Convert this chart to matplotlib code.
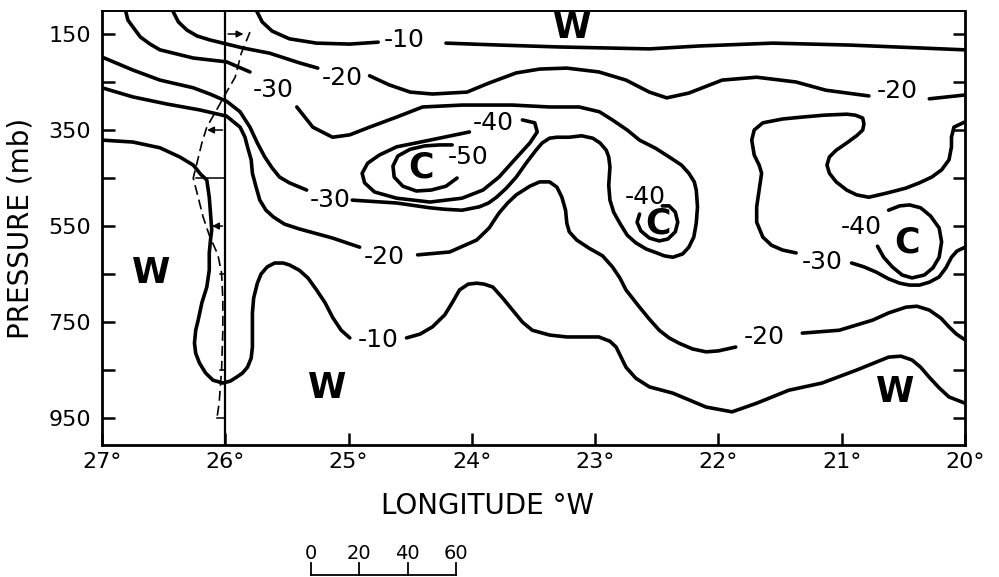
import numpy as np
import matplotlib
matplotlib.use("Agg")
import matplotlib.pyplot as plt

GAP = (np.nan, np.nan)   # break in a line where its label sits

# hand traced isotherms, (longitude deg W, pressure mb)
m10_top = [(25.75, 100), (25.70, 125), (25.62, 144), (25.48, 160), (25.26, 169), (24.99, 171), (24.76, 167), GAP,
           (24.21, 169), (23.78, 173), (23.29, 177), (22.56, 181), (22.16, 175), (21.56, 169), (20.94, 173),
           (20.37, 179), (20.0, 183)]

m20_top = [(26.43, 100), (26.38, 125), (26.31, 142), (26.23, 154), (26.13, 162), (25.86, 179), (25.64, 190),
           (25.40, 210), (25.25, 221), GAP, (24.83, 237), (24.67, 256), (24.50, 271), (24.32, 275), (24.04, 271),
           (23.86, 252), (23.64, 231), (23.45, 223), (23.23, 221), (22.97, 229), (22.75, 246), (22.56, 271),
           (22.42, 283), (22.24, 273), (21.97, 246), (21.69, 240), (21.37, 250), (21.13, 267), (20.78, 279), GAP,
           (20.29, 285), (20.0, 277)]

m30 = [(26.81, 100), (26.79, 121), (26.75, 135), (26.69, 156), (26.61, 171), (26.53, 183), (26.26, 200),
       (25.99, 208), (25.80, 229), GAP,
       (25.42, 302), (25.29, 344), (25.13, 365), (24.99, 360), (24.83, 344), (24.61, 323), (24.40, 302),
       (24.08, 298), (23.67, 298), (23.37, 302), (23.13, 302), (22.965, 312), (22.86, 329), (22.74, 350),
       (22.64, 371), (22.51, 388), (22.40, 406), (22.30, 423), (22.24, 440), (22.196, 458), (22.18, 475),
       (22.17, 510), (22.18, 544), (22.20, 573), (22.24, 594), (22.29, 608), (22.37, 615), (22.44, 612),
       (22.50, 606), (22.585, 598), (22.67, 585), (22.74, 569), (22.80, 544), (22.85, 521), (22.88, 496),
       (22.89, 465), (22.88, 427), (22.89, 406), (22.91, 392), (22.96, 377), (23.02, 367), (23.11, 362),
       (23.21, 365), (23.31, 365), (23.37, 367), (23.43, 377), (23.48, 392), (23.56, 419), (23.64, 448),
       (23.72, 471), (23.80, 490), (23.865, 502), (23.94, 510), (24.08, 517), (24.22, 515), (24.34, 512),
       (24.61, 502), (24.97, 496), GAP,
       (25.34, 475), (25.48, 460), (25.56, 448), (25.62, 429), (25.68, 406), (25.74, 377), (25.80, 344),
       (25.88, 312), (25.99, 290), (26.125, 275), (26.26, 262), (26.53, 246), (26.75, 225), (27.0, 198)]

m30_east = [(20.0, 333), (20.09, 344), (20.11, 365), (20.11, 385), (20.13, 412), (20.19, 433), (20.27, 448),
            (20.37, 460), (20.48, 471), (20.63, 481), (20.78, 490), (20.88, 485), (20.96, 475), (21.045, 458),
            (21.10, 440), (21.12, 423), (21.10, 406), (21.045, 392), (20.96, 377), (20.88, 362), (20.83, 350),
            (20.82, 337), (20.83, 325), (20.89, 319), (20.96, 317), (21.14, 319), (21.32, 323), (21.48, 327),
            (21.64, 335), (21.71, 350), (21.73, 371), (21.71, 402), (21.67, 423), (21.65, 440), (21.67, 475),
            (21.69, 510), (21.69, 542), (21.64, 573), (21.57, 590), (21.48, 600), (21.37, 606), GAP,
            (20.92, 627), (20.82, 635), (20.72, 646), (20.62, 660), (20.53, 669), (20.45, 673), (20.37, 673),
            (20.29, 667), (20.21, 656), (20.155, 637), (20.11, 615), (20.065, 602), (20.0, 594)]

m40_west = [(23.59, 329), (23.49, 335), (23.47, 354), (23.53, 377), (23.64, 408), (23.78, 448), (23.91, 475),
            (24.08, 492), (24.34, 500), (24.61, 492), (24.79, 479), (24.87, 460), (24.89, 440), (24.845, 419),
            (24.75, 402), (24.61, 385), (24.34, 371), (24.02, 354)]

m50 = [(24.16, 381), (24.26, 381), (24.38, 383), (24.50, 390), (24.60, 404), (24.64, 425), (24.63, 448),
       (24.56, 467), (24.45, 477), (24.33, 475), (24.21, 467), (24.12, 450)]

m40_mid = [(22.455, 508), (22.40, 508), (22.35, 521), (22.33, 542), (22.35, 562), (22.41, 577), (22.48, 581),
           (22.56, 575), (22.63, 560), (22.66, 542), (22.64, 525)]

m40_east = [(20.62, 517), (20.53, 508), (20.45, 506), (20.36, 512), (20.28, 529), (20.21, 554), (20.19, 583),
            (20.21, 615), (20.26, 637), (20.33, 652), (20.43, 658), (20.51, 652), (20.59, 635), (20.66, 615),
            (20.71, 592)]

m20_low = [(27.0, 262), (26.75, 281), (26.47, 296), (26.21, 308), (25.99, 321), (25.88, 344), (25.84, 365),
           (25.82, 385), (25.79, 412), (25.78, 440), (25.75, 469), (25.72, 496), (25.67, 517), (25.61, 531),
           (25.52, 546), (25.40, 556), (25.13, 575), (24.91, 594), GAP,
           (24.44, 610), (24.18, 604), (23.96, 579), (23.86, 554), (23.78, 523), (23.71, 502), (23.64, 485),
           (23.53, 467), (23.45, 458), (23.37, 458), (23.31, 469), (23.27, 490), (23.24, 517), (23.23, 544),
           (23.21, 562), (23.15, 579), (23.05, 596), (22.94, 612), (22.86, 635), (22.80, 658), (22.75, 683),
           (22.64, 719), (22.56, 744), (22.48, 767), (22.40, 783), (22.32, 794), (22.21, 806), (22.10, 812),
           (22.0, 810), (21.86, 802), GAP,
           (21.32, 773), (21.02, 767), (20.75, 746), (20.62, 731), (20.48, 719), (20.39, 717), (20.29, 725),
           (20.195, 742), (20.13, 760), (20.07, 775), (20.0, 787)]

m10_low = [(20.0, 919), (20.13, 906), (20.21, 887), (20.29, 865), (20.36, 844), (20.43, 829), (20.52, 821),
           (20.62, 823), (20.88, 850), (21.16, 877), (21.43, 892), (21.69, 919), (21.89, 937), (22.10, 927),
           (22.37, 898), (22.56, 885), (22.67, 867), (22.75, 844), (22.79, 823), (22.83, 802), (22.88, 790),
           (22.97, 781), (23.23, 781), (23.37, 777), (23.51, 767), (23.59, 750), (23.67, 725), (23.75, 700),
           (23.83, 677), (23.90, 671), (23.96, 669), (24.03, 671), (24.10, 683), (24.16, 710), (24.22, 735),
           (24.32, 760), (24.42, 775), (24.53, 783), GAP,
           (24.99, 783), (25.06, 767), (25.13, 740), (25.19, 710), (25.26, 683), (25.33, 658), (25.40, 642),
           (25.48, 631), (25.53, 627), (25.60, 627), (25.66, 635), (25.71, 650), (25.74, 669), (25.77, 700),
           (25.78, 731), (25.78, 767), (25.78, 802), (25.79, 825), (25.82, 844), (25.86, 856), (25.91, 865),
           (25.96, 873), (26.02, 877), (26.10, 871), (26.16, 856), (26.21, 835), (26.24, 815), (26.25, 794),
           (26.24, 767), (26.22, 746), (26.19, 710), (26.15, 677), (26.13, 642), (26.13, 606), (26.12, 579),
           (26.11, 558), (26.12, 523), (26.13, 490), (26.15, 454), (26.20, 442), (26.26, 423), (26.37, 406),
           (26.53, 387), (26.75, 375), (27.0, 371)]

# contour labels
label_txt = ["-10", "-20", "-30", "-20", "-40", "-50", "-30", "-40", "-40", "-30", "-20", "-20", "-10"]
label_lon = [24.55, 25.05, 25.61, 20.55, 23.83, 24.03, 25.15, 22.59, 20.84, 21.16, 24.71, 21.63, 24.76]
label_p = [162, 242, 267, 269, 335, 406, 496, 490, 552, 625, 615, 781, 787]

# cold / warm centres
c_lon = [24.41, 22.49, 20.47]
c_p = [429, 544, 585]
w_lon = [23.19, 26.60, 25.17, 20.57]
w_p = [138, 648, 887, 896]

# sounding at 26W: dashed profile and arrows
sounding_lon = 26.0
dash_lon = [25.80, 25.87, 25.92, 25.99, 26.07, 26.15, 26.19, 26.23, 26.26, 26.22, 26.18, 26.13, 26.06, 26.03,
            26.02, 26.02, 26.03, 26.05, 26.07]
dash_p = [146, 190, 240, 271, 308, 344, 377, 419, 450, 490, 531, 569, 610, 648, 704, 767, 850, 919, 954]
arrow_p = [150, 350, 550]
arrow_tip = [25.83, 26.17, 26.13]
bar_p = [450, 650, 850, 950]
bar_tip = [26.24, 26.04, 26.04, 26.07]

lon_ticks = [27, 26, 25, 24, 23, 22, 21, 20]
p_ticks = [150, 250, 350, 450, 550, 650, 750, 850, 950]
p_labels = ["150", "", "350", "", "550", "", "750", "", "950"]
scale_ticks = [0, 20, 40, 60]


fig = plt.figure(figsize=(9.99, 5.77), dpi=100)
ax = fig.add_axes([0.1021, 0.2288, 0.8639, 0.7522])

contours = [m10_top, m20_top, m30, m30_east, m40_west, m50, m40_mid, m40_east, m20_low, m10_low]
for line in contours:
    lon, p = zip(*line)
    ax.plot(lon, p, color="black", lw=2.6, solid_capstyle="round", solid_joinstyle="round")

for txt, lon, p in zip(label_txt, label_lon, label_p):
    ax.text(lon, p, txt, ha="center", va="center", fontsize=18)

for lon, p in zip(c_lon, c_p):
    ax.text(lon, p, "C", ha="center", va="center", fontsize=25, fontweight="bold")
for lon, p in zip(w_lon, w_p):
    ax.text(lon, p, "W", ha="center", va="center", fontsize=25, fontweight="bold")

# sounding
ax.axvline(sounding_lon, color="black", lw=1.6)
ax.plot(dash_lon, dash_p, color="black", lw=1.2, linestyle=(0, (6, 3)))
for p, tip in zip(arrow_p, arrow_tip):
    ax.annotate("", xy=(tip, p), xytext=(sounding_lon, p),
                arrowprops=dict(arrowstyle="-|>", lw=1.1, color="black", mutation_scale=10))
for p, tip in zip(bar_p, bar_tip):
    ax.plot([sounding_lon, tip], [p, p], color="black", lw=1.1)

ax.set_xlim(27, 20)
ax.set_ylim(1006, 102)
ax.set_xticks(lon_ticks)
ax.set_xticklabels([f"{t}°" for t in lon_ticks])
ax.set_yticks(p_ticks)
ax.set_yticklabels(p_labels)
ax.tick_params(direction="in", length=9, width=1.8, labelsize=16, pad=8)
ax.tick_params(axis="y", right=True)
ax.tick_params(axis="x", pad=5)
for s in ax.spines.values():
    s.set_linewidth(2)
ax.spines["top"].set_linewidth(1.4)

ax.set_ylabel("PRESSURE (mb)", fontsize=20)
ax.yaxis.set_label_coords(-0.078, 0.5)
ax.set_xlabel("LONGITUDE °W", fontsize=20)
ax.xaxis.set_label_coords(0.447, -0.108)

# speed scale below the axis
x0, x1 = 0.2422, 0.4102
sx = [x0 + (x1 - x0) * v / scale_ticks[-1] for v in scale_ticks]
ax.plot([sx[0], sx[-1]], [-0.2995, -0.2995], color="black", lw=1.3,
        transform=ax.transAxes, clip_on=False)
for x, v in zip(sx, scale_ticks):
    ax.plot([x, x], [-0.2995, -0.272], color="black", lw=1.3,
            transform=ax.transAxes, clip_on=False)
    ax.text(x, -0.249, str(v), ha="center", va="center", fontsize=14,
            transform=ax.transAxes)

fig.savefig("out.png", dpi=100)
